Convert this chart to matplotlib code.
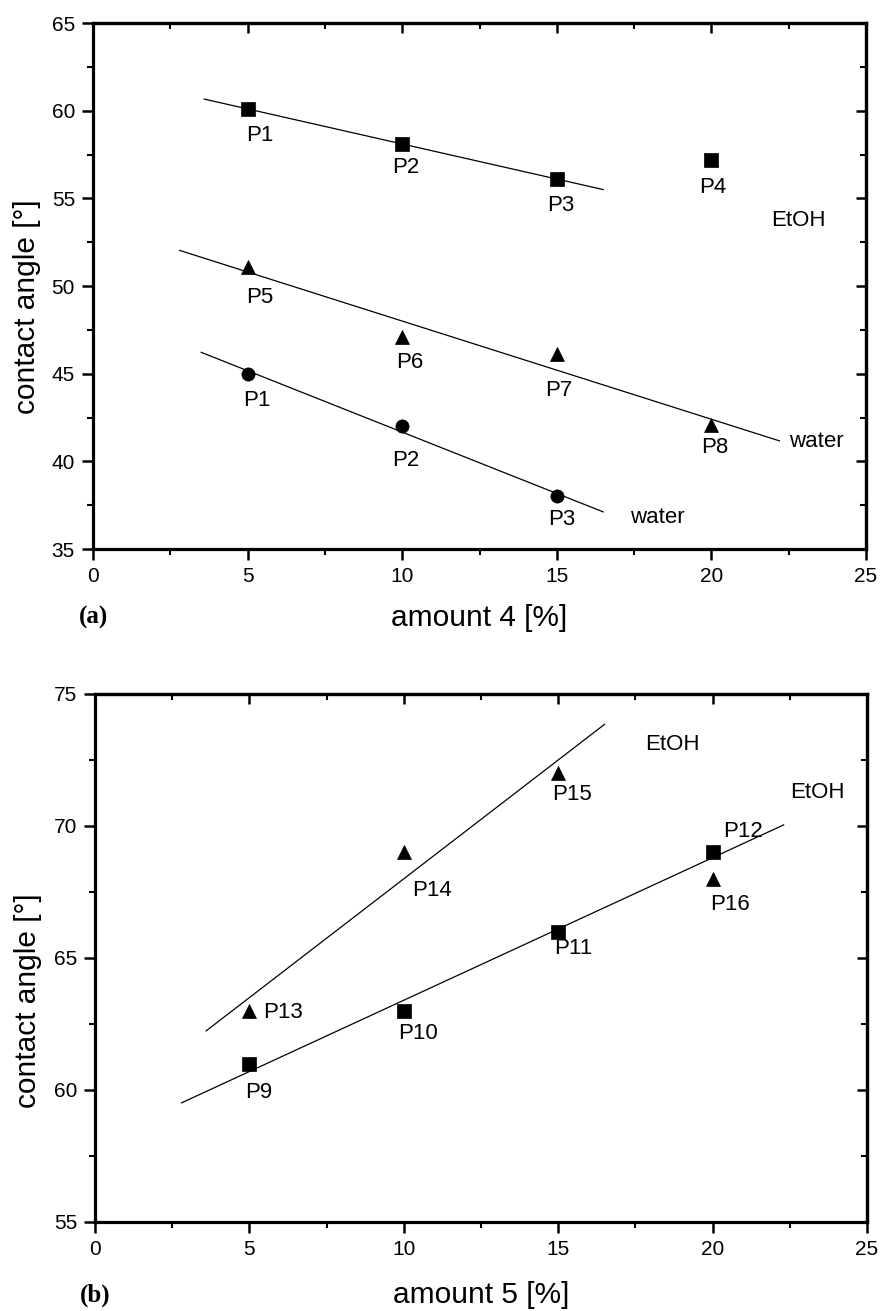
import numpy as np
import matplotlib.pyplot as plt
from matplotlib.ticker import MultipleLocator

plt.rcParams['font.family'] = ['Liberation Sans', 'DejaVu Sans']

# panel (a): amount 4
a_x = [5, 10, 15, 20]
a_x_circ = [5, 10, 15]
a_etoh_sq = [60.1, 58.1, 56.1, 57.2]
a_etoh_sq_labels = ['P1', 'P2', 'P3', 'P4']
a_water_tri = [51.1, 47.1, 46.1, 42.1]
a_water_tri_labels = ['P5', 'P6', 'P7', 'P8']
a_water_circ = [45.0, 42.0, 38.0]
a_water_circ_labels = ['P1', 'P2', 'P3']

# panel (b): amount 5
b_x = [5, 10, 15, 20]
b_sq = [61.0, 63.0, 66.0, 69.0]
b_sq_labels = ['P9', 'P10', 'P11', 'P12']
b_tri = [63.0, 69.0, 72.0, 68.0]
b_tri_labels = ['P13', 'P14', 'P15', 'P16']

fig = plt.figure(figsize=(8.8, 13.11), dpi=100)
ax1 = fig.add_axes([93 / 880, 1 - 549 / 1311, 773 / 880, 526 / 1311])
ax2 = fig.add_axes([95 / 880, 1 - 1222 / 1311, 772 / 880, 528 / 1311])


def series(ax, x, y, labels, marker, nfit, xr, offs):
    ax.plot(x, y, linestyle='none', marker=marker, ms=9.5, color='black',
            mec='black', mew=0.5, zorder=3)
    k, b = np.polyfit(x[:nfit], y[:nfit], 1)
    xs = np.array(xr)
    ax.plot(xs, k * xs + b, color='black', lw=0.9, zorder=2)
    for xi, yi, lab, (dx, dy) in zip(x, y, labels, offs):
        ax.annotate(lab, (xi, yi), xytext=(dx, -dy), textcoords='offset pixels',
                    ha='center', va='center', fontsize=16)


def style(ax, ylim):
    ax.set_xlim(0, 25)
    ax.set_ylim(*ylim)
    ax.xaxis.set_major_locator(MultipleLocator(5))
    ax.xaxis.set_minor_locator(MultipleLocator(2.5))
    ax.yaxis.set_major_locator(MultipleLocator(5))
    ax.yaxis.set_minor_locator(MultipleLocator(2.5))
    for s in ax.spines.values():
        s.set_linewidth(2.3)
    ax.tick_params(which='major', direction='out', length=8, width=1.8, pad=5)
    ax.tick_params(which='minor', direction='out', length=4, width=1.5)
    top = ax.secondary_xaxis('top')
    top.xaxis.set_major_locator(MultipleLocator(5))
    top.xaxis.set_minor_locator(MultipleLocator(2.5))
    top.tick_params(which='major', direction='in', length=7, width=1.8, labeltop=False)
    top.tick_params(which='minor', direction='in', length=4, width=1.5)
    right = ax.secondary_yaxis('right')
    right.yaxis.set_major_locator(MultipleLocator(5))
    right.yaxis.set_minor_locator(MultipleLocator(2.5))
    right.tick_params(which='major', direction='in', length=7, width=1.8, labelright=False)
    right.tick_params(which='minor', direction='in', length=4, width=1.5)
    for sec in (top, right):
        for s in sec.spines.values():
            s.set_linewidth(2.3)
    ax.set_xticks([0, 5, 10, 15, 20, 25])
    ax.set_xticklabels(['0', '5', '10', '15', '20', '25'], fontsize=15)
    yt = np.arange(ylim[0], ylim[1] + 1, 5)
    ax.set_yticks(yt)
    ax.set_yticklabels([str(int(v)) for v in yt], fontsize=15)


# (a)
series(ax1, a_x, a_etoh_sq, a_etoh_sq_labels, 's', 3, (3.6, 16.5),
       [(12, 27), (4, 24), (4, 26), (1, 28)])
series(ax1, a_x, a_water_tri, a_water_tri_labels, '^', 4, (2.8, 22.2),
       [(12, 31), (8, 26), (2, 36), (3, 23)])
series(ax1, a_x_circ, a_water_circ, a_water_circ_labels, 'o', 3, (3.5, 16.5),
       [(9, 27), (4, 34), (5, 23)])
ax1.text(22.8, 53.76, 'EtOH', ha='center', va='center', fontsize=16)
ax1.text(23.4, 41.15, 'water', ha='center', va='center', fontsize=16)
ax1.text(18.25, 36.8, 'water', ha='center', va='center', fontsize=16)
style(ax1, (35, 65))
ax1.set_xlabel('amount 4 [%]', fontsize=21.5, va='center')
ax1.xaxis.set_label_coords(0.5, -0.131)
ax1.set_ylabel('contact angle [°]', fontsize=21.5, va='center', ha='center')
ax1.yaxis.set_label_coords(-0.0854, 0.46)
ax1.text(0, -0.131, '(a)', transform=ax1.transAxes, ha='center', va='center',
         family='Liberation Serif', weight='bold', fontsize=18)

# (b)
series(ax2, b_x, b_sq, b_sq_labels, 's', 4, (2.8, 22.3),
       [(9, 29), (14, 23), (15, 17), (30, -21)])
series(ax2, b_x, b_tri, b_tri_labels, '^', 3, (3.6, 16.5),
       [(34, 2), (28, 38), (14, 21), (17, 26)])
ax2.text(18.7, 73.07, 'EtOH', ha='center', va='center', fontsize=16)
ax2.text(23.4, 71.25, 'EtOH', ha='center', va='center', fontsize=16)
style(ax2, (55, 75))
ax2.set_xlabel('amount 5 [%]', fontsize=21.5, va='center')
ax2.xaxis.set_label_coords(0.5, -0.138)
ax2.set_ylabel('contact angle [°]', fontsize=21.5, va='center', ha='center')
ax2.yaxis.set_label_coords(-0.0868, 0.42)
ax2.text(0, -0.138, '(b)', transform=ax2.transAxes, ha='center', va='center',
         family='Liberation Serif', weight='bold', fontsize=18)

fig.savefig('out.png', dpi=100)
